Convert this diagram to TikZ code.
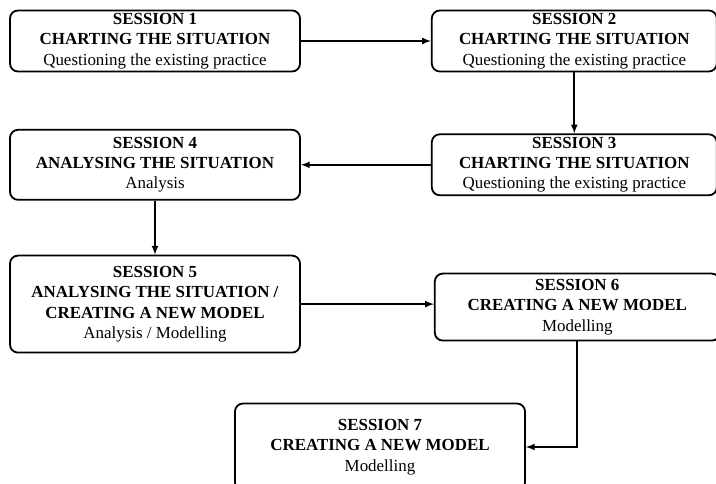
\documentclass[tikz,border=0pt]{standalone}
\usepackage{fontspec}
\setmainfont{Liberation Serif}
\usetikzlibrary{arrows,positioning}

\begin{document}
\begin{tikzpicture}[x=1bp, y=1bp, every node/.style={draw, rounded corners=8bp, line width=1.8bp, align=center, inner sep=0bp, minimum width=290bp, font=\fontsize{17}{20.5}\selectfont}, link/.style={-latex, line width=2bp}]
  \useasboundingbox (0,0) rectangle (716,484);
  \node [minimum height=61bp] (s1) at (155,443) {\textbf{SESSION 1}\\\textbf{CHARTING THE SITUATION}\\Questioning the existing practice};
  \node [minimum height=61bp, minimum width=285bp, right=130bp of s1] (s2) {\textbf{SESSION 2}\\\textbf{CHARTING THE SITUATION}\\Questioning the existing practice};
  \node [minimum height=61bp, minimum width=285bp, below=61bp of s2] (s3) {\textbf{SESSION 3}\\\textbf{CHARTING THE SITUATION}\\Questioning the existing practice};
  \node [minimum height=70bp, left=130bp of s3] (s4) {\textbf{SESSION 4}\\\textbf{ANALYSING THE SITUATION}\\Analysis};
  \node [minimum height=97bp, below=54bp of s4] (s5) {\textbf{SESSION 5}\\\textbf{ANALYSING THE SITUATION /}\\\textbf{CREATING A NEW MODEL}\\Analysis / Modelling};
  \node [minimum height=67bp, minimum width=285bp, right=133bp of s5, yshift=-3bp] (s6) {\textbf{SESSION 6}\\\textbf{CREATING A NEW MODEL}\\Modelling};
  \node [minimum height=87bp] (s7) at (380,37) {\textbf{SESSION 7}\\\textbf{CREATING A NEW MODEL}\\Modelling};
  \draw [link] (s1) -- (s2);
  \draw [link] (s2) -- (s3);
  \draw [link] (s3) -- (s4);
  \draw [link] (s4) -- (s5);
  \draw [link] (s5.east) -- (s5.east -| s6.west);
  \draw [link] (s6) |- (s7);
\end{tikzpicture}
\end{document}
